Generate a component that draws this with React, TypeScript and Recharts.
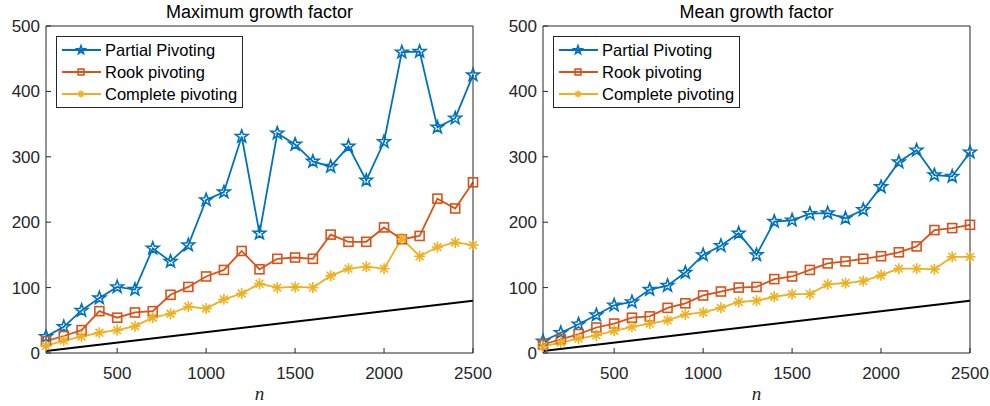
import React from "react";
import { LineChart, Line, XAxis, YAxis, Legend, Label } from "recharts";

const nValues = [100, 200, 300, 400, 500, 600, 700, 800, 900, 1000, 1100, 1200, 1300, 1400, 1500, 1600, 1700, 1800, 1900, 2000, 2100, 2200, 2300, 2400, 2500];

// Maximum growth factor
const maxPartial = [25, 40, 65, 84, 101, 97, 160, 140, 165, 234, 246, 331, 183, 336, 319, 293, 285, 316, 264, 323, 460, 461, 345, 359, 425];
const maxRook = [18, 26, 35, 64, 54, 62, 64, 89, 101, 117, 127, 156, 128, 144, 146, 144, 181, 170, 170, 192, 174, 179, 236, 221, 261];
const maxComplete = [11, 19, 25, 31, 35, 41, 54, 60, 71, 68, 82, 91, 106, 100, 101, 100, 118, 129, 132, 129, 175, 148, 162, 169, 165];

// Mean growth factor
const meanPartial = [18, 31, 44, 58, 73, 78, 97, 103, 123, 150, 164, 183, 150, 201, 203, 213, 214, 206, 219, 254, 292, 310, 272, 270, 307];
const meanRook = [13, 21, 29, 39, 45, 54, 56, 69, 76, 88, 94, 100, 101, 113, 117, 127, 137, 140, 144, 148, 154, 163, 188, 191, 196];
const meanComplete = [10, 16, 22, 27, 34, 40, 45, 50, 59, 62, 69, 78, 80, 86, 90, 90, 105, 107, 110, 119, 129, 129, 128, 147, 147];

// black reference line, only its two ends
const refEnds = [3, 80];

const xTicks = [500, 1000, 1500, 2000, 2500];
const yTicks = [0, 100, 200, 300, 400, 500];
const seriesNames = ["Partial Pivoting", "Rook pivoting", "Complete pivoting"];

const blue = "#0072BD";
const orange = "#D95319";
const yellow = "#EDB120";
const axisColor = "#262626";
const font = "'Liberation Sans', Arial, Helvetica, sans-serif";

const buildRows = (partial: number[], rook: number[], complete: number[]) =>
  nValues.map((n, i) => ({
    n,
    partial: partial[i],
    rook: rook[i],
    complete: complete[i],
    ref: i === 0 ? refEnds[0] : i === nValues.length - 1 ? refEnds[1] : null,
  }));

const StarMark = ({ cx, cy, color, s = 1 }: any) => {
  const pts: string[] = [];
  for (let k = 0; k < 10; k++) {
    const r = (k % 2 === 0 ? 6.6 : 2.7) * s;
    const a = -Math.PI / 2 + (k * Math.PI) / 5;
    pts.push(`${cx + r * Math.cos(a)},${cy + r * Math.sin(a)}`);
  }
  return <polygon points={pts.join(" ")} fill="none" stroke={color} strokeWidth={1.6} strokeLinejoin="miter" />;
};

const SquareMark = ({ cx, cy, color, s = 1 }: any) => (
  <rect x={cx - 4.5 * s} y={cy - 4.5 * s} width={9 * s} height={9 * s} fill="none" stroke={color} strokeWidth={1.6} />
);

const AsteriskMark = ({ cx, cy, color, s = 1 }: any) => {
  const r = 5.5 * s;
  const d = r * 0.707;
  return (
    <g stroke={color} strokeWidth={1.6}>
      <line x1={cx - r} y1={cy} x2={cx + r} y2={cy} />
      <line x1={cx} y1={cy - r} x2={cx} y2={cy + r} />
      <line x1={cx - d} y1={cy - d} x2={cx + d} y2={cy + d} />
      <line x1={cx - d} y1={cy + d} x2={cx + d} y2={cy - d} />
    </g>
  );
};

const marks = [StarMark, SquareMark, AsteriskMark];
const colors = [blue, orange, yellow];

const LegendBox = () => (
  <div
    style={{
      border: `1px solid ${axisColor}`,
      background: "#fff",
      padding: "2px 5px 2px 3px",
      fontFamily: font,
      fontSize: 16.5,
      color: "#000",
      lineHeight: "22px",
    }}
  >
    {seriesNames.map((name, i) => {
      const M = marks[i];
      return (
        <div key={name} style={{ display: "flex", alignItems: "center", height: 22 }}>
          <svg width={42} height={16} style={{ marginRight: 3 }}>
            <line x1={2} y1={8} x2={41} y2={8} stroke={colors[i]} strokeWidth={1.8} />
            <M cx={21} cy={8} color={colors[i]} s={0.65} />
          </svg>
          <span>{name}</span>
        </div>
      );
    })}
  </div>
);

const Panel = ({ title, rows, yWidth, right }: any) => (
  <LineChart
    width={495}
    height={406}
    data={rows}
    margin={{ top: 25, right: right - 1, bottom: 0, left: 0 }}
    style={{ fontFamily: font }}
  >
    <XAxis
      xAxisId="b"
      type="number"
      dataKey="n"
      domain={[100, 2500]}
      ticks={xTicks}
      tickSize={-5}
      tickMargin={19}
      height={53}
      stroke={axisColor}
      tick={{ fill: axisColor, fontSize: 17 }}
    >
      <Label
        value="n"
        position="insideBottom"
        offset={6}
        style={{ fontFamily: "'Liberation Serif', 'DejaVu Serif', serif", fontStyle: "italic", fontSize: 19, fill: axisColor }}
      />
    </XAxis>
    <XAxis
      xAxisId="t"
      orientation="top"
      type="number"
      dataKey="n"
      domain={[100, 2500]}
      ticks={xTicks}
      tickSize={-5}
      tickMargin={0}
      height={1}
      tick={false}
      stroke={axisColor}
    >
      <Label value={title} position="top" offset={7} style={{ fontSize: 18, fill: "#000", fontFamily: font }} />
    </XAxis>
    <YAxis
      yAxisId="l"
      domain={[0, 500]}
      ticks={yTicks}
      width={yWidth}
      tickSize={-5}
      tickMargin={11}
      stroke={axisColor}
      tick={{ fill: axisColor, fontSize: 17 }}
    />
    <YAxis
      yAxisId="r"
      orientation="right"
      domain={[0, 500]}
      ticks={yTicks}
      width={1}
      tickSize={-5}
      tickMargin={0}
      tick={false}
      stroke={axisColor}
    />
    <Legend
      layout="horizontal"
      verticalAlign="middle"
      align="center"
      content={() => <LegendBox />}
      wrapperStyle={{ left: yWidth + 10, top: 36, width: "auto" }}
    />
    {["partial", "rook", "complete"].map((key, i) => {
      const M = marks[i];
      return (
        <Line
          key={key}
          xAxisId="b"
          yAxisId="l"
          dataKey={key}
          stroke={colors[i]}
          strokeWidth={1.8}
          isAnimationActive={false}
          dot={(p: any) => <M key={`${key}${p.index}`} cx={p.cx} cy={p.cy} color={colors[i]} />}
          activeDot={false}
        />
      );
    })}
    <Line
      xAxisId="b"
      yAxisId="l"
      dataKey="ref"
      stroke="#000"
      strokeWidth={2}
      connectNulls
      dot={false}
      activeDot={false}
      isAnimationActive={false}
    />
  </LineChart>
);

export default function App() {
  return (
    <div style={{ position: "absolute", left: 0, top: 0, width: 990, height: 406, display: "flex", background: "#fff" }}>
      <Panel title="Maximum growth factor" rows={buildRows(maxPartial, maxRook, maxComplete)} yWidth={46} right={22} />
      <Panel title="Mean growth factor" rows={buildRows(meanPartial, meanRook, meanComplete)} yWidth={48} right={20} />
    </div>
  );
}
